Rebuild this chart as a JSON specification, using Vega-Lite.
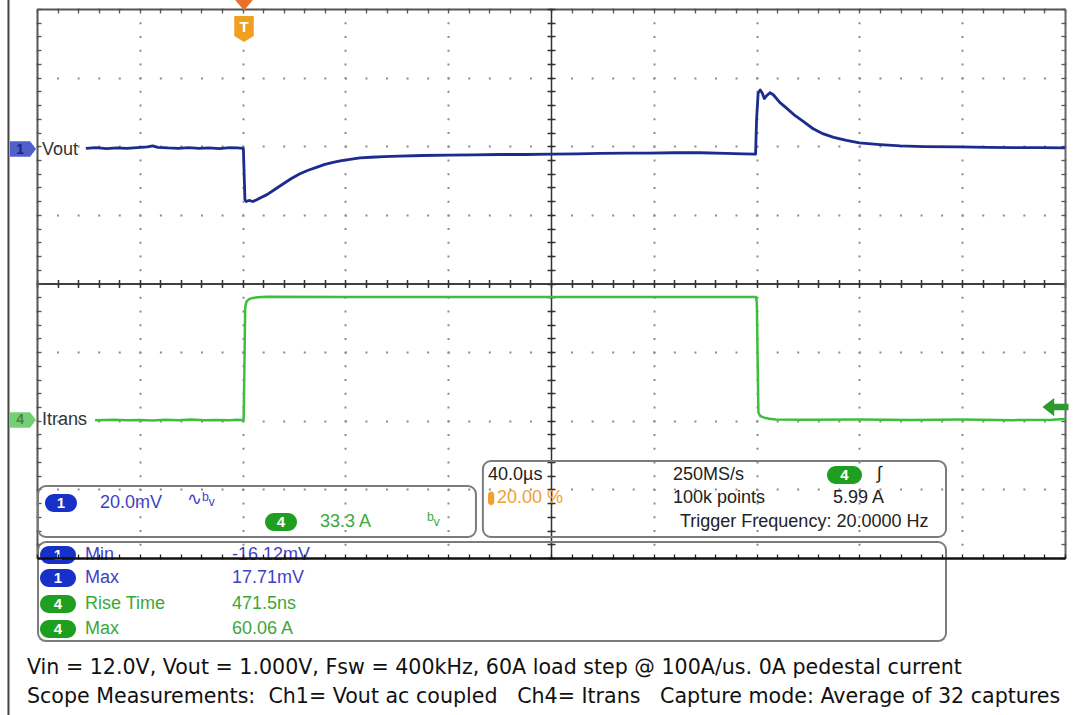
{
  "$schema": "https://vega.github.io/schema/vega-lite/v6.json",
  "width": 1028,
  "height": 549,
  "autosize": {"type": "none"},
  "padding": {"left": 37, "top": 9, "right": 8, "bottom": 157},
  "background": "white",
  "config": {
    "view": {"stroke": null},
    "axis": {"labels": false, "title": null, "grid": false, "ticks": false, "domain": false}
  },
  "datasets": {
    "vout": [
      {"t": -61, "v": -0.6}, {"t": -57, "v": -0.4}, {"t": -53, "v": -0.7}, {"t": -49, "v": -0.5},
      {"t": -45, "v": -0.6}, {"t": -41, "v": -0.4}, {"t": -37, "v": -0.2}, {"t": -35, "v": 0.1},
      {"t": -33, "v": -0.3}, {"t": -29, "v": -0.5}, {"t": -25, "v": -0.6}, {"t": -21, "v": -0.4},
      {"t": -17, "v": -0.6}, {"t": -13, "v": -0.5}, {"t": -9, "v": -0.7}, {"t": -5, "v": -0.4},
      {"t": -2, "v": -0.5}, {"t": 0.3, "v": -0.6}, {"t": 0.6, "v": -8}, {"t": 0.9, "v": -15.5},
      {"t": 1.4, "v": -16.1}, {"t": 2.5, "v": -15.8}, {"t": 4.0, "v": -16.1}, {"t": 5.5, "v": -15.6},
      {"t": 7, "v": -15.0}, {"t": 9.5, "v": -14.1}, {"t": 12.5, "v": -12.6}, {"t": 15.7, "v": -11.0},
      {"t": 19, "v": -9.4}, {"t": 22.3, "v": -8.0}, {"t": 25.5, "v": -7.0}, {"t": 29, "v": -6.1},
      {"t": 32, "v": -5.3}, {"t": 35.2, "v": -4.7}, {"t": 38.5, "v": -4.2}, {"t": 41.8, "v": -3.8},
      {"t": 45.7, "v": -3.4}, {"t": 50, "v": -3.2}, {"t": 55, "v": -3.0}, {"t": 61, "v": -2.9},
      {"t": 70, "v": -2.7}, {"t": 80, "v": -2.6}, {"t": 90, "v": -2.5}, {"t": 100, "v": -2.4},
      {"t": 110, "v": -2.4}, {"t": 120, "v": -2.3}, {"t": 130, "v": -2.2}, {"t": 139, "v": -2.1},
      {"t": 150, "v": -2.0}, {"t": 158, "v": -2.0}, {"t": 168, "v": -1.9}, {"t": 178, "v": -1.9},
      {"t": 188, "v": -2.1}, {"t": 195, "v": -2.2}, {"t": 199.6, "v": -2.3}, {"t": 200.0, "v": 8},
      {"t": 200.6, "v": 15.5}, {"t": 201.4, "v": 16.4}, {"t": 202.2, "v": 15.5}, {"t": 203, "v": 13.9},
      {"t": 204, "v": 14.8}, {"t": 205.2, "v": 15.6}, {"t": 206.5, "v": 15.0}, {"t": 209, "v": 12.8},
      {"t": 212, "v": 10.9}, {"t": 215, "v": 8.9}, {"t": 218, "v": 7.3}, {"t": 222, "v": 5.1},
      {"t": 226, "v": 3.6}, {"t": 230, "v": 2.6}, {"t": 235, "v": 1.7}, {"t": 240, "v": 1.0},
      {"t": 248, "v": 0.5}, {"t": 256, "v": 0.1}, {"t": 265, "v": -0.1}, {"t": 279, "v": -0.2},
      {"t": 290, "v": -0.3}, {"t": 300, "v": -0.4}, {"t": 310, "v": -0.4}, {"t": 320, "v": -0.5}
    ],
    "itrans": [
      {"t": -57.4, "i": 0.3}, {"t": -50, "i": 0.5}, {"t": -45, "i": 0.2}, {"t": -40, "i": 0.4},
      {"t": -35, "i": 0.1}, {"t": -30, "i": 0.5}, {"t": -25, "i": 0.3}, {"t": -20, "i": 0.6},
      {"t": -15, "i": 0.2}, {"t": -10, "i": 0.4}, {"t": -5, "i": 0.3}, {"t": -2, "i": 0.5},
      {"t": 0.4, "i": 0.3}, {"t": 0.7, "i": 25}, {"t": 1.0, "i": 55}, {"t": 1.5, "i": 57.8},
      {"t": 2.5, "i": 59.0}, {"t": 4, "i": 59.6}, {"t": 6, "i": 59.9}, {"t": 9.5, "i": 60.2},
      {"t": 40, "i": 60.0}, {"t": 80, "i": 60.1}, {"t": 120, "i": 60.0}, {"t": 160, "i": 60.1},
      {"t": 199.8, "i": 60.0}, {"t": 200.1, "i": 57}, {"t": 200.4, "i": 30}, {"t": 200.7, "i": 4.0},
      {"t": 201.4, "i": 2.3}, {"t": 203, "i": 1.5}, {"t": 205, "i": 1.0}, {"t": 207.5, "i": 0.6},
      {"t": 220, "i": 0.5}, {"t": 240, "i": 0.6}, {"t": 260, "i": 0.4}, {"t": 280, "i": 0.6},
      {"t": 300, "i": 0.3}, {"t": 315, "i": 0.5}, {"t": 320, "i": 0.8}
    ],
    "panels": [
      {"t": -79.6, "t2": 90.8, "d": -2.951, "d2": -3.694},
      {"t": 93.5, "t2": 273.7, "d": -2.587, "d2": -3.694},
      {"t": -79.6, "t2": 273.7, "d": -3.767, "d2": -5.21}
    ],
    "pills": [
      {"t": -76.89, "t2": -64.44, "d": -3.067, "d2": -3.33, "ch": "ch1"},
      {"t": 8.72, "t2": 21.17, "d": -3.344, "d2": -3.606, "ch": "ch4"},
      {"t": 227.39, "t2": 241.01, "d": -2.659, "d2": -2.922, "ch": "ch4"},
      {"t": -78.83, "t2": -64.82, "d": -3.825, "d2": -4.087, "ch": "ch1"},
      {"t": -78.83, "t2": -64.82, "d": -4.16, "d2": -4.423, "ch": "ch1"},
      {"t": -78.83, "t2": -64.82, "d": -4.539, "d2": -4.801, "ch": "ch4"},
      {"t": -78.83, "t2": -64.82, "d": -4.903, "d2": -5.166, "ch": "ch4"},
      {"t": 95.49, "t2": 97.9, "d": -3.03, "d2": -3.23, "ch": "orange"}
    ],
    "pilltext": [
      {"t": -70.66, "d": -3.199, "label": "1"},
      {"t": 14.94, "d": -3.475, "label": "4"},
      {"t": 234.2, "d": -2.791, "label": "4"},
      {"t": -71.83, "d": -3.956, "label": "1"},
      {"t": -71.83, "d": -4.291, "label": "1"},
      {"t": -71.83, "d": -4.67, "label": "4"},
      {"t": -71.83, "d": -5.034, "label": "4"},
      {"t": 0.55, "d": 3.74, "label": "T"}
    ],
    "paneltext": [
      {"t": -55.49, "d": -3.199, "label": "20.0mV", "grp": "ch1"},
      {"t": -21.63, "d": -3.155, "label": "∿ᵇᵥ", "grp": "ch1"},
      {"t": 30.12, "d": -3.475, "label": "33.3 A", "grp": "ch4"},
      {"t": 71.75, "d": -3.446, "label": "ᵇᵥ", "grp": "ch4"},
      {"t": 95.49, "d": -2.79, "label": "40.0µs", "grp": "black"},
      {"t": 98.99, "d": -3.126, "label": "20.00 %", "grp": "orange"},
      {"t": 167.47, "d": -2.79, "label": "250MS/s", "grp": "black"},
      {"t": 167.47, "d": -3.126, "label": "100k points", "grp": "black"},
      {"t": 170.19, "d": -3.475, "label": "Trigger Frequency: 20.0000 Hz", "grp": "black"},
      {"t": 246.84, "d": -2.776, "label": "∫", "grp": "black"},
      {"t": 229.73, "d": -3.126, "label": "5.99 A", "grp": "black"},
      {"t": -61.32, "d": -3.956, "label": "Min", "grp": "ch1"},
      {"t": -61.32, "d": -4.291, "label": "Max", "grp": "ch1"},
      {"t": -61.32, "d": -4.67, "label": "Rise Time", "grp": "ch4"},
      {"t": -61.32, "d": -5.034, "label": "Max", "grp": "ch4"},
      {"t": -4.12, "d": -3.956, "label": "-16.12mV", "grp": "ch1"},
      {"t": -4.12, "d": -4.291, "label": "17.71mV", "grp": "ch1"},
      {"t": -4.12, "d": -4.67, "label": "471.5ns", "grp": "ch4"},
      {"t": -4.12, "d": -5.034, "label": "60.06 A", "grp": "ch4"},
      {"t": -78.05, "d": 1.945, "label": "Vout", "grp": "dark"},
      {"t": -78.05, "d": -1.989, "label": "Itrans", "grp": "dark"}
    ],
    "markers": [
      {"t": -85.45, "d": 1.96, "kind": "ch1"},
      {"t": -85.45, "d": -1.989, "kind": "ch4"},
      {"t": 0.55, "d": 3.709, "kind": "trig"},
      {"t": 0.55, "d": 4.09, "kind": "trigtop"},
      {"t": 316.3, "d": -1.8, "kind": "level"}
    ],
    "markertext": [
      {"t": -86.6, "d": 1.945, "label": "1", "grp": "ch1"},
      {"t": -86.6, "d": -1.989, "label": "4", "grp": "ch4"}
    ],
    "frame": [
      {"t": -91.1, "d": 4.131, "d2": -6.288}
    ],
    "footer": [
      {"t": -83.9, "d": -5.603, "label": "Vin = 12.0V, Vout = 1.000V, Fsw = 400kHz, 60A load step @ 100A/us. 0A pedestal current"},
      {"t": -83.9, "d": -6.026, "label": "Scope Measurements:\u00a0\u00a0Ch1= Vout ac coupled\u00a0\u00a0\u00a0Ch4= Itrans\u00a0\u00a0\u00a0Capture mode: Average of 32 captures"}
    ]
  },
  "resolve": {
    "scale": {"y": "independent", "color": "independent", "shape": "independent", "size": "independent"},
    "axis": {"x": "independent", "y": "independent"}
  },
  "layer": [
    {
      "data": {"name": "panels"},
      "mark": {"type": "rect", "fill": "white", "fillOpacity": 0, "stroke": "#7b7b7b", "strokeWidth": 2, "cornerRadius": 8},
      "encoding": {
        "x": {"field": "t", "type": "quantitative", "scale": {"domain": [-80, 320], "nice": false, "zero": false},
          "axis": {"orient": "top", "offset": -274.5, "values": [-80,-72,-64,-56,-48,-40,-32,-24,-16,-8,0,8,16,24,32,40,48,56,64,72,80,88,96,104,112,120,128,136,144,152,160,168,176,184,192,200,208,216,224,232,240,248,256,264,272,280,288,296,304,312,320],
            "ticks": true, "tickSize": 4, "tickColor": "#333", "tickWidth": 1.5, "domain": true, "domainColor": "#333", "domainWidth": 1.5}},
        "x2": {"field": "t2"},
        "y": {"field": "d", "type": "quantitative", "scale": {"domain": [-4, 4], "nice": false, "zero": false},
          "axis": {"orient": "left", "values": [-4,-3,-2,-1,0,1,2,3,4], "grid": true, "gridColor": "#8c8c8c", "gridWidth": 2, "gridDash": [2, 18.56], "gridDashOffset": 1}},
        "y2": {"field": "d2"}
      }
    },
    {
      "data": {"name": "vout"},
      "mark": {"type": "line", "color": "#1c2b8e", "strokeWidth": 2.8, "strokeJoin": "round"},
      "encoding": {
        "x": {"field": "t", "type": "quantitative", "scale": {"domain": [-80, 320], "nice": false, "zero": false},
          "axis": {"orient": "bottom", "values": [-80,-40,0,40,80,120,160,200,240,280,320], "grid": true, "gridColor": "#8c8c8c", "gridWidth": 2, "gridDash": [2, 11.725], "gridDashOffset": 1}},
        "y": {"field": "v", "type": "quantitative", "title": "Vout (mV)", "scale": {"domain": [-120, 40], "nice": false, "zero": false}, "axis": null}
      }
    },
    {
      "data": {"name": "itrans"},
      "mark": {"type": "line", "color": "#3cbf3c", "strokeWidth": 2.5, "strokeJoin": "round"},
      "encoding": {
        "x": {"field": "t", "type": "quantitative", "scale": {"domain": [-80, 320], "nice": false, "zero": false},
          "axis": {"orient": "bottom", "offset": -274.5, "values": [-80,-72,-64,-56,-48,-40,-32,-24,-16,-8,0,8,16,24,32,40,48,56,64,72,80,88,96,104,112,120,128,136,144,152,160,168,176,184,192,200,208,216,224,232,240,248,256,264,272,280,288,296,304,312,320],
            "ticks": true, "tickSize": 4, "tickColor": "#333", "tickWidth": 1.5, "domain": true, "domainColor": "#333", "domainWidth": 1.5}},
        "y": {"field": "i", "type": "quantitative", "title": "Itrans (A)", "scale": {"domain": [-66.6, 199.8], "nice": false, "zero": false}, "axis": null}
      }
    },
    {
      "data": {"name": "pills"},
      "mark": {"type": "rect", "cornerRadius": 9},
      "encoding": {
        "x": {"field": "t", "type": "quantitative", "scale": {"domain": [-80, 320], "nice": false, "zero": false},
          "axis": {"orient": "top", "values": [-80,-72,-64,-56,-48,-40,-32,-24,-16,-8,0,8,16,24,32,40,48,56,64,72,80,88,96,104,112,120,128,136,144,152,160,168,176,184,192,200,208,216,224,232,240,248,256,264,272,280,288,296,304,312,320],
            "ticks": true, "tickSize": -4, "tickColor": "#555", "tickWidth": 1.3, "domain": true, "domainColor": "#555", "domainWidth": 2}},
        "x2": {"field": "t2"},
        "y": {"field": "d", "type": "quantitative", "scale": {"domain": [-4, 4], "nice": false, "zero": false},
          "axis": {"orient": "left", "offset": -514, "values": [-4,-3.8,-3.6,-3.4,-3.2,-3,-2.8,-2.6,-2.4,-2.2,-2,-1.8,-1.6,-1.4,-1.2,-1,-0.8,-0.6,-0.4,-0.2,0,0.2,0.4,0.6,0.8,1,1.2,1.4,1.6,1.8,2,2.2,2.4,2.6,2.8,3,3.2,3.4,3.6,3.8,4],
            "ticks": true, "tickSize": 4, "tickColor": "#333", "tickWidth": 1.5, "domain": true, "domainColor": "#333", "domainWidth": 1.5}},
        "y2": {"field": "d2"},
        "color": {"field": "ch", "type": "nominal", "scale": {"domain": ["ch1", "ch4", "orange"], "range": ["#1630c8", "#1f9f1f", "#f0a030"]}, "legend": null}
      }
    },
    {
      "data": {"name": "markers"},
      "mark": {"type": "point", "filled": true, "opacity": 1},
      "encoding": {
        "x": {"field": "t", "type": "quantitative", "scale": {"domain": [-80, 320], "nice": false, "zero": false}, "axis": null},
        "y": {"field": "d", "type": "quantitative", "scale": {"domain": [-4, 4], "nice": false, "zero": false},
          "axis": {"orient": "right", "values": [-4,-3.8,-3.6,-3.4,-3.2,-3,-2.8,-2.6,-2.4,-2.2,-2,-1.8,-1.6,-1.4,-1.2,-1,-0.8,-0.6,-0.4,-0.2,0,0.2,0.4,0.6,0.8,1,1.2,1.4,1.6,1.8,2,2.2,2.4,2.6,2.8,3,3.2,3.4,3.6,3.8,4],
            "ticks": true, "tickSize": -4, "tickColor": "#555", "tickWidth": 1.3, "domain": true, "domainColor": "#666", "domainWidth": 2}},
        "shape": {"field": "kind", "type": "nominal", "legend": null, "scale": {"domain": ["ch1", "ch4", "trig", "trigtop", "level"],
          "range": ["M-1,-0.6L0.55,-0.6L1,0L0.55,0.6L-1,0.6Z", "M-1,-0.6L0.55,-0.6L1,0L0.55,0.6L-1,0.6Z", "M-0.75,-1L0.75,-1L0.75,0.55L0,1L-0.75,0.55Z", "M-1,-0.6L1,-0.6L0,0.6Z", "M-1,0L-0.1,-0.7L-0.1,-0.25L1,-0.25L1,0.25L-0.1,0.25L-0.1,0.7Z"]}},
        "size": {"field": "kind", "type": "nominal", "legend": null, "scale": {"domain": ["ch1", "ch4", "trig", "trigtop", "level"], "range": [676, 676, 400, 144, 144]}},
        "color": {"field": "kind", "type": "nominal", "legend": null, "scale": {"domain": ["ch1", "ch4", "trig", "trigtop", "level"], "range": ["#4f60c8", "#74cf74", "#f0a020", "#e8702a", "#2c9a2c"]}}
      }
    },
    {
      "data": {"name": "pilltext"},
      "mark": {"type": "text", "color": "white", "font": "Liberation Sans", "fontSize": 15, "fontWeight": "bold", "align": "center", "baseline": "middle"},
      "encoding": {
        "x": {"field": "t", "type": "quantitative", "scale": {"domain": [-80, 320], "nice": false, "zero": false},
          "axis": {"orient": "bottom", "zindex": 1, "values": [-80,-72,-64,-56,-48,-40,-32,-24,-16,-8,0,8,16,24,32,40,48,56,64,72,80,88,96,104,112,120,128,136,144,152,160,168,176,184,192,200,208,216,224,232,240,248,256,264,272,280,288,296,304,312,320],
            "ticks": true, "tickSize": -4, "tickColor": "#222", "tickWidth": 1.3, "domain": true, "domainColor": "#111", "domainWidth": 2.5}},
        "y": {"field": "d", "type": "quantitative", "scale": {"domain": [-4, 4], "nice": false, "zero": false},
          "axis": {"orient": "right", "offset": -514, "values": [-4,-3.8,-3.6,-3.4,-3.2,-3,-2.8,-2.6,-2.4,-2.2,-2,-1.8,-1.6,-1.4,-1.2,-1,-0.8,-0.6,-0.4,-0.2,0,0.2,0.4,0.6,0.8,1,1.2,1.4,1.6,1.8,2,2.2,2.4,2.6,2.8,3,3.2,3.4,3.6,3.8,4],
            "ticks": true, "tickSize": 4, "tickColor": "#333", "tickWidth": 1.5, "domain": false}},
        "text": {"field": "label"}
      }
    },
    {
      "data": {"name": "paneltext"},
      "mark": {"type": "text", "font": "Liberation Sans", "fontSize": 18, "align": "left", "baseline": "middle"},
      "encoding": {
        "x": {"field": "t", "type": "quantitative", "scale": {"domain": [-80, 320], "nice": false, "zero": false}, "axis": null},
        "y": {"field": "d", "type": "quantitative", "scale": {"domain": [-4, 4], "nice": false, "zero": false},
          "axis": {"orient": "left", "values": [-4,-3.8,-3.6,-3.4,-3.2,-3,-2.8,-2.6,-2.4,-2.2,-2,-1.8,-1.6,-1.4,-1.2,-1,-0.8,-0.6,-0.4,-0.2,0,0.2,0.4,0.6,0.8,1,1.2,1.4,1.6,1.8,2,2.2,2.4,2.6,2.8,3,3.2,3.4,3.6,3.8,4],
            "ticks": true, "tickSize": -4, "tickColor": "#555", "tickWidth": 1.3, "domain": true, "domainColor": "#555", "domainWidth": 2}},
        "text": {"field": "label"},
        "color": {"field": "grp", "type": "nominal", "scale": {"domain": ["ch1", "ch4", "black", "orange", "dark"], "range": ["#3f3fc6", "#3aa83a", "#222222", "#f0a030", "#333333"]}, "legend": null}
      }
    },
    {
      "data": {"name": "markertext"},
      "mark": {"type": "text", "font": "Liberation Sans", "fontSize": 14, "fontWeight": "bold", "align": "center", "baseline": "middle"},
      "encoding": {
        "x": {"field": "t", "type": "quantitative", "scale": {"domain": [-80, 320], "nice": false, "zero": false}, "axis": null},
        "y": {"field": "d", "type": "quantitative", "scale": {"domain": [-4, 4], "nice": false, "zero": false}, "axis": null},
        "text": {"field": "label"},
        "color": {"field": "grp", "type": "nominal", "legend": null, "scale": {"domain": ["ch1", "ch4"], "range": ["#1a237e", "#4f7f4f"]}}
      }
    },
    {
      "data": {"name": "frame"},
      "mark": {"type": "rule", "color": "#444", "strokeWidth": 2},
      "encoding": {
        "x": {"field": "t", "type": "quantitative", "scale": {"domain": [-80, 320], "nice": false, "zero": false}, "axis": null},
        "y": {"field": "d", "type": "quantitative", "scale": {"domain": [-4, 4], "nice": false, "zero": false}, "axis": null},
        "y2": {"field": "d2"}
      }
    },
    {
      "data": {"name": "footer"},
      "mark": {"type": "text", "font": "DejaVu Sans", "fontSize": 20.6, "color": "#111", "align": "left", "baseline": "middle"},
      "encoding": {
        "x": {"field": "t", "type": "quantitative", "scale": {"domain": [-80, 320], "nice": false, "zero": false}, "axis": null},
        "y": {"field": "d", "type": "quantitative", "scale": {"domain": [-4, 4], "nice": false, "zero": false}, "axis": null},
        "text": {"field": "label"}
      }
    }
  ]
}
